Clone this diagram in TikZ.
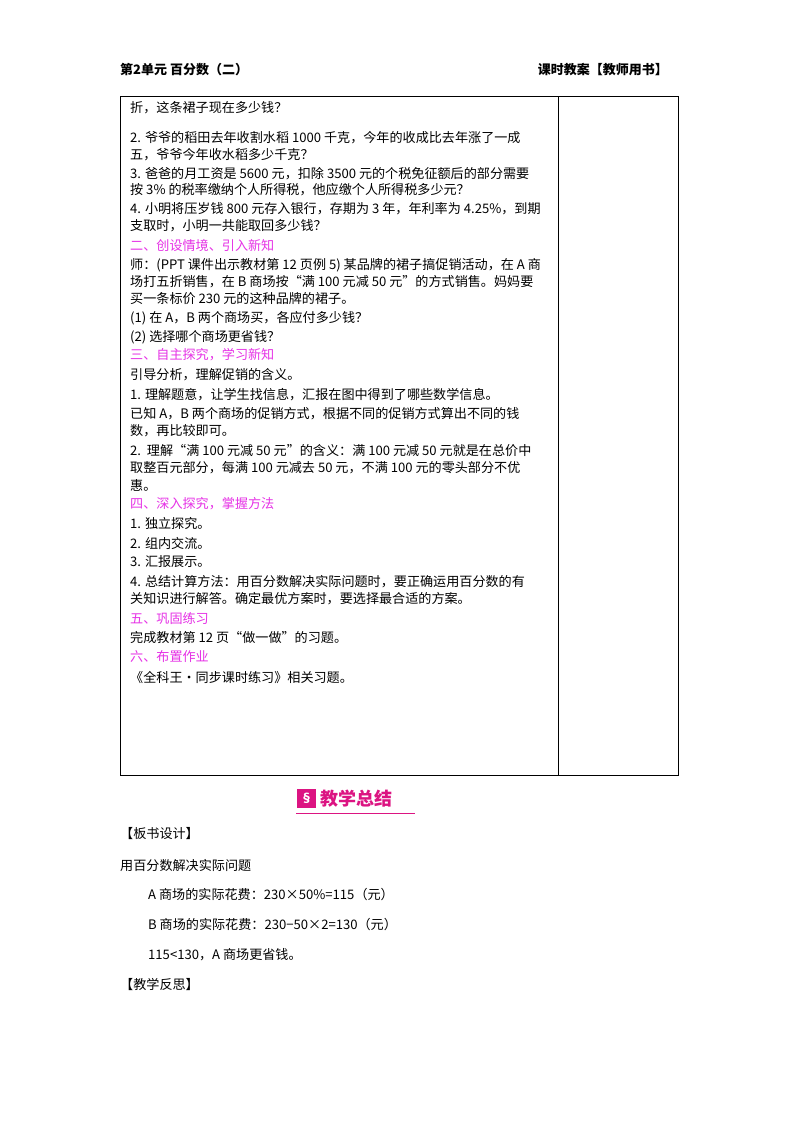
\documentclass[tikz,border=0pt]{standalone}
\usepackage{fontspec}
\setmainfont{Noto Sans CJK SC}
\definecolor{mag}{RGB}{230,50,230}
\definecolor{bpink}{RGB}{220,20,130}
\begin{document}
\begin{tikzpicture}[x=1pt,y=-1pt,
  t/.style={anchor=west,inner sep=0pt,font=\fontsize{13.1}{14}\selectfont},
  h/.style={t,text=mag}]
\useasboundingbox (0,0) rectangle (800,1132);
\fill[white] (0,0) rectangle (800,1132);
\node[t,font=\fontsize{13}{15}\selectfont\bfseries] (hl) at (120,70) {第2单元 百分数（二）};
\node[t,anchor=east,font=\fontsize{13}{15}\selectfont\bfseries] (hr) at (668,70) {课时教案【教师用书】};
\draw[line width=0.9pt] (120,96) rectangle (678,775);
\draw[line width=0.9pt] (558,96) -- (558,775);
\foreach \y/\s in {108/{折，这条裙子现在多少钱？},
138/{2. 爷爷的稻田去年收割水稻 1000 千克，今年的收成比去年涨了一成},
155/{五，爷爷今年收水稻多少千克？},
174/{3. 爸爸的月工资是 5600 元，扣除 3500 元的个税免征额后的部分需要},
190/{按 3\% 的税率缴纳个人所得税，他应缴个人所得税多少元？},
209/{4. 小明将压岁钱 800 元存入银行，存期为 3 年，年利率为 4.25\%，到期},
226/{支取时，小明一共能取回多少钱？},
265/{师：(PPT 课件出示教材第 12 页例 5) 某品牌的裙子搞促销活动，在 A 商},
282/{场打五折销售，在 B 商场按“满 100 元减 50 元”的方式销售。妈妈要},
299/{买一条标价 230 元的这种品牌的裙子。},
318/{(1) 在 A，B 两个商场买，各应付多少钱？},
337/{(2) 选择哪个商场更省钱？},
375/{引导分析，理解促销的含义。},
395/{1. 理解题意，让学生找信息，汇报在图中得到了哪些数学信息。},
414/{已知 A，B 两个商场的促销方式，根据不同的促销方式算出不同的钱},
431/{数，再比较即可。},
451/{2.\ \ 理解“满 100 元减 50 元”的含义：满 100 元减 50 元就是在总价中},
468/{取整百元部分，每满 100 元减去 50 元，不满 100 元的零头部分不优},
485/{惠。},
523/{1. 独立探究。},
543/{2. 组内交流。},
562/{3. 汇报展示。},
582/{4. 总结计算方法：用百分数解决实际问题时，要正确运用百分数的有},
599/{关知识进行解答。确定最优方案时，要选择最合适的方案。},
638/{完成教材第 12 页“做一做”的习题。},
677/{《全科王·同步课时练习》相关习题。}}
  \node[t] at (130,\y) {\s};
\foreach \y/\s in {245/{二、创设情境、引入新知},355/{三、自主探究，学习新知},504/{四、深入探究，掌握方法},618/{五、巩固练习},657/{六、布置作业}}
  \node[h] at (130,\y) {\s};
% banner
\node[fill=bpink,minimum size=19pt,inner sep=0pt,text=white,font=\bfseries\fontsize{12}{12}\selectfont] (icon) at (306.5,798.5) {§};
\node[t,anchor=west,text=bpink,font=\fontsize{18}{20}\selectfont\bfseries] (bt) at (320,799) {教学总结};
\draw[bpink,line width=1pt] (296,813) -- (415,813);
\node[t] at (120,834) {【板书设计】};
\node[t] at (120,865) {用百分数解决实际问题};
\node[t] at (148,895) {A 商场的实际花费：230×50\%=115（元）};
\node[t] at (148,925) {B 商场的实际花费：230−50×2=130（元）};
\node[t] at (148,955) {115<130，A 商场更省钱。};
\node[t] at (120,984) {【教学反思】};
\end{tikzpicture}
\end{document}
